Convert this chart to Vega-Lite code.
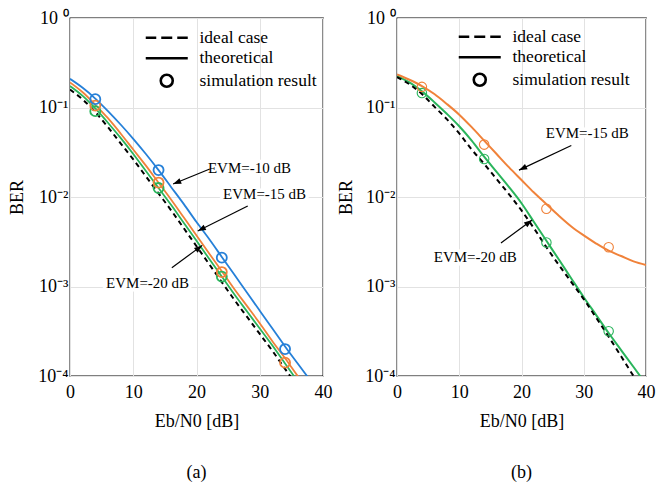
{
  "$schema": "https://vega.github.io/schema/vega-lite/v6.json",
  "background": "white",
  "padding": {"left": 8, "top": 8, "right": 2, "bottom": 2},
  "spacing": 4,
  "config": {
    "font": "Liberation Serif",
    "view": {"stroke": "black", "strokeWidth": 1.3},
    "axis": {
      "labelFont": "Liberation Serif", "titleFont": "Liberation Serif",
      "labelColor": "black", "titleColor": "black",
      "labelFontSize": 18, "titleFontSize": 18, "titleFontWeight": "normal",
      "gridColor": "#e2e2e2", "gridWidth": 1, "domain": false, "ticks": false,
      "labelFlush": false, "labelOverlap": false
    },
    "title": {"font": "Liberation Serif", "fontSize": 18, "fontWeight": "normal", "color": "black"}
  },
  "datasets": {
    "curves": [
      {"panel": "a", "series": "ideal", "x": 0, "y": 0.1585}, {"panel": "a", "series": "ideal", "x": 2, "y": 0.123}, {"panel": "a", "series": "ideal", "x": 4, "y": 0.0891}, {"panel": "a", "series": "ideal", "x": 6, "y": 0.0603}, {"panel": "a", "series": "ideal", "x": 8, "y": 0.0398}, {"panel": "a", "series": "ideal", "x": 10, "y": 0.0263}, {"panel": "a", "series": "ideal", "x": 12, "y": 0.017}, {"panel": "a", "series": "ideal", "x": 14, "y": 0.01096}, {"panel": "a", "series": "ideal", "x": 16, "y": 0.00708}, {"panel": "a", "series": "ideal", "x": 18, "y": 0.00447}, {"panel": "a", "series": "ideal", "x": 20, "y": 0.00282}, {"panel": "a", "series": "ideal", "x": 22, "y": 0.00178}, {"panel": "a", "series": "ideal", "x": 24, "y": 0.00112}, {"panel": "a", "series": "ideal", "x": 26, "y": 0.000708}, {"panel": "a", "series": "ideal", "x": 28, "y": 0.000457}, {"panel": "a", "series": "ideal", "x": 30, "y": 0.000295}, {"panel": "a", "series": "ideal", "x": 32, "y": 0.000191}, {"panel": "a", "series": "ideal", "x": 34, "y": 0.00012}, {"panel": "a", "series": "ideal", "x": 36, "y": 0.0000759},
      {"panel": "a", "series": "-20 dB", "x": 0, "y": 0.1738}, {"panel": "a", "series": "-20 dB", "x": 2, "y": 0.1349}, {"panel": "a", "series": "-20 dB", "x": 4, "y": 0.0977}, {"panel": "a", "series": "-20 dB", "x": 6, "y": 0.0676}, {"panel": "a", "series": "-20 dB", "x": 8, "y": 0.0457}, {"panel": "a", "series": "-20 dB", "x": 10, "y": 0.0302}, {"panel": "a", "series": "-20 dB", "x": 12, "y": 0.0195}, {"panel": "a", "series": "-20 dB", "x": 14, "y": 0.01259}, {"panel": "a", "series": "-20 dB", "x": 16, "y": 0.00813}, {"panel": "a", "series": "-20 dB", "x": 18, "y": 0.00513}, {"panel": "a", "series": "-20 dB", "x": 20, "y": 0.00324}, {"panel": "a", "series": "-20 dB", "x": 22, "y": 0.00204}, {"panel": "a", "series": "-20 dB", "x": 24, "y": 0.00129}, {"panel": "a", "series": "-20 dB", "x": 26, "y": 0.000813}, {"panel": "a", "series": "-20 dB", "x": 28, "y": 0.000525}, {"panel": "a", "series": "-20 dB", "x": 30, "y": 0.000339}, {"panel": "a", "series": "-20 dB", "x": 32, "y": 0.000219}, {"panel": "a", "series": "-20 dB", "x": 34, "y": 0.000138}, {"panel": "a", "series": "-20 dB", "x": 36, "y": 0.0000871},
      {"panel": "a", "series": "-15 dB", "x": 0, "y": 0.1905}, {"panel": "a", "series": "-15 dB", "x": 2, "y": 0.1479}, {"panel": "a", "series": "-15 dB", "x": 4, "y": 0.1072}, {"panel": "a", "series": "-15 dB", "x": 6, "y": 0.0759}, {"panel": "a", "series": "-15 dB", "x": 8, "y": 0.0513}, {"panel": "a", "series": "-15 dB", "x": 10, "y": 0.0339}, {"panel": "a", "series": "-15 dB", "x": 12, "y": 0.0224}, {"panel": "a", "series": "-15 dB", "x": 14, "y": 0.01445}, {"panel": "a", "series": "-15 dB", "x": 16, "y": 0.00933}, {"panel": "a", "series": "-15 dB", "x": 18, "y": 0.00589}, {"panel": "a", "series": "-15 dB", "x": 20, "y": 0.00372}, {"panel": "a", "series": "-15 dB", "x": 22, "y": 0.00234}, {"panel": "a", "series": "-15 dB", "x": 24, "y": 0.00148}, {"panel": "a", "series": "-15 dB", "x": 26, "y": 0.000933}, {"panel": "a", "series": "-15 dB", "x": 28, "y": 0.000603}, {"panel": "a", "series": "-15 dB", "x": 30, "y": 0.000389}, {"panel": "a", "series": "-15 dB", "x": 32, "y": 0.000245}, {"panel": "a", "series": "-15 dB", "x": 34, "y": 0.000158}, {"panel": "a", "series": "-15 dB", "x": 36, "y": 0.0001}, {"panel": "a", "series": "-15 dB", "x": 38, "y": 0.0000646},
      {"panel": "a", "series": "-10 dB", "x": 0, "y": 0.2089}, {"panel": "a", "series": "-10 dB", "x": 2, "y": 0.166}, {"panel": "a", "series": "-10 dB", "x": 4, "y": 0.1259}, {"panel": "a", "series": "-10 dB", "x": 6, "y": 0.0912}, {"panel": "a", "series": "-10 dB", "x": 8, "y": 0.0646}, {"panel": "a", "series": "-10 dB", "x": 10, "y": 0.0447}, {"panel": "a", "series": "-10 dB", "x": 12, "y": 0.0302}, {"panel": "a", "series": "-10 dB", "x": 14, "y": 0.01995}, {"panel": "a", "series": "-10 dB", "x": 16, "y": 0.01288}, {"panel": "a", "series": "-10 dB", "x": 18, "y": 0.00832}, {"panel": "a", "series": "-10 dB", "x": 20, "y": 0.00525}, {"panel": "a", "series": "-10 dB", "x": 22, "y": 0.00339}, {"panel": "a", "series": "-10 dB", "x": 24, "y": 0.00214}, {"panel": "a", "series": "-10 dB", "x": 26, "y": 0.00135}, {"panel": "a", "series": "-10 dB", "x": 28, "y": 0.000851}, {"panel": "a", "series": "-10 dB", "x": 30, "y": 0.000537}, {"panel": "a", "series": "-10 dB", "x": 32, "y": 0.000339}, {"panel": "a", "series": "-10 dB", "x": 34, "y": 0.000214}, {"panel": "a", "series": "-10 dB", "x": 36, "y": 0.000138}, {"panel": "a", "series": "-10 dB", "x": 38, "y": 0.0000891},
      {"panel": "b", "series": "ideal", "x": 0, "y": 0.2188}, {"panel": "b", "series": "ideal", "x": 2, "y": 0.182}, {"panel": "b", "series": "ideal", "x": 4, "y": 0.1413}, {"panel": "b", "series": "ideal", "x": 6, "y": 0.1023}, {"panel": "b", "series": "ideal", "x": 8, "y": 0.0741}, {"panel": "b", "series": "ideal", "x": 10, "y": 0.0513}, {"panel": "b", "series": "ideal", "x": 12, "y": 0.0339}, {"panel": "b", "series": "ideal", "x": 14, "y": 0.02344}, {"panel": "b", "series": "ideal", "x": 16, "y": 0.01585}, {"panel": "b", "series": "ideal", "x": 18, "y": 0.01072}, {"panel": "b", "series": "ideal", "x": 20, "y": 0.00708}, {"panel": "b", "series": "ideal", "x": 22, "y": 0.00447}, {"panel": "b", "series": "ideal", "x": 24, "y": 0.00275}, {"panel": "b", "series": "ideal", "x": 26, "y": 0.00174}, {"panel": "b", "series": "ideal", "x": 28, "y": 0.00112}, {"panel": "b", "series": "ideal", "x": 30, "y": 0.000724}, {"panel": "b", "series": "ideal", "x": 32, "y": 0.000447}, {"panel": "b", "series": "ideal", "x": 34, "y": 0.000275}, {"panel": "b", "series": "ideal", "x": 36, "y": 0.000166}, {"panel": "b", "series": "ideal", "x": 38, "y": 0.0001}, {"panel": "b", "series": "ideal", "x": 40, "y": 0.0000631},
      {"panel": "b", "series": "-20 dB", "x": 0, "y": 0.2239}, {"panel": "b", "series": "-20 dB", "x": 2, "y": 0.1905}, {"panel": "b", "series": "-20 dB", "x": 4, "y": 0.1514}, {"panel": "b", "series": "-20 dB", "x": 6, "y": 0.1148}, {"panel": "b", "series": "-20 dB", "x": 8, "y": 0.0851}, {"panel": "b", "series": "-20 dB", "x": 10, "y": 0.0617}, {"panel": "b", "series": "-20 dB", "x": 12, "y": 0.0427}, {"panel": "b", "series": "-20 dB", "x": 14, "y": 0.0282}, {"panel": "b", "series": "-20 dB", "x": 16, "y": 0.01905}, {"panel": "b", "series": "-20 dB", "x": 18, "y": 0.01288}, {"panel": "b", "series": "-20 dB", "x": 20, "y": 0.00851}, {"panel": "b", "series": "-20 dB", "x": 22, "y": 0.00525}, {"panel": "b", "series": "-20 dB", "x": 24, "y": 0.00324}, {"panel": "b", "series": "-20 dB", "x": 26, "y": 0.002}, {"panel": "b", "series": "-20 dB", "x": 28, "y": 0.00123}, {"panel": "b", "series": "-20 dB", "x": 30, "y": 0.000759}, {"panel": "b", "series": "-20 dB", "x": 32, "y": 0.000479}, {"panel": "b", "series": "-20 dB", "x": 34, "y": 0.000302}, {"panel": "b", "series": "-20 dB", "x": 36, "y": 0.000195}, {"panel": "b", "series": "-20 dB", "x": 38, "y": 0.000126}, {"panel": "b", "series": "-20 dB", "x": 40, "y": 0.0000813},
      {"panel": "b", "series": "-15 dB", "x": 0, "y": 0.2344}, {"panel": "b", "series": "-15 dB", "x": 2, "y": 0.2042}, {"panel": "b", "series": "-15 dB", "x": 4, "y": 0.1738}, {"panel": "b", "series": "-15 dB", "x": 6, "y": 0.1413}, {"panel": "b", "series": "-15 dB", "x": 8, "y": 0.1096}, {"panel": "b", "series": "-15 dB", "x": 10, "y": 0.0832}, {"panel": "b", "series": "-15 dB", "x": 12, "y": 0.0603}, {"panel": "b", "series": "-15 dB", "x": 14, "y": 0.0427}, {"panel": "b", "series": "-15 dB", "x": 16, "y": 0.0302}, {"panel": "b", "series": "-15 dB", "x": 18, "y": 0.0214}, {"panel": "b", "series": "-15 dB", "x": 20, "y": 0.01549}, {"panel": "b", "series": "-15 dB", "x": 22, "y": 0.01122}, {"panel": "b", "series": "-15 dB", "x": 24, "y": 0.00832}, {"panel": "b", "series": "-15 dB", "x": 26, "y": 0.00617}, {"panel": "b", "series": "-15 dB", "x": 28, "y": 0.00468}, {"panel": "b", "series": "-15 dB", "x": 30, "y": 0.00372}, {"panel": "b", "series": "-15 dB", "x": 32, "y": 0.00302}, {"panel": "b", "series": "-15 dB", "x": 34, "y": 0.00251}, {"panel": "b", "series": "-15 dB", "x": 36, "y": 0.00219}, {"panel": "b", "series": "-15 dB", "x": 38, "y": 0.00191}, {"panel": "b", "series": "-15 dB", "x": 40, "y": 0.00174}
    ],
    "sim": [
      {"panel": "a", "series": "-20 dB", "kind": "simulation result", "x": 4, "y": 0.091}, {"panel": "a", "series": "-20 dB", "kind": "simulation result", "x": 14, "y": 0.0126}, {"panel": "a", "series": "-20 dB", "kind": "simulation result", "x": 24, "y": 0.00129},
      {"panel": "a", "series": "-15 dB", "kind": "simulation result", "x": 4, "y": 0.105}, {"panel": "a", "series": "-15 dB", "kind": "simulation result", "x": 14, "y": 0.0145}, {"panel": "a", "series": "-15 dB", "kind": "simulation result", "x": 24, "y": 0.00145}, {"panel": "a", "series": "-15 dB", "kind": "simulation result", "x": 34, "y": 0.000141},
      {"panel": "a", "series": "-10 dB", "kind": "simulation result", "x": 4, "y": 0.124}, {"panel": "a", "series": "-10 dB", "kind": "simulation result", "x": 14, "y": 0.02}, {"panel": "a", "series": "-10 dB", "kind": "simulation result", "x": 24, "y": 0.0021}, {"panel": "a", "series": "-10 dB", "kind": "simulation result", "x": 34, "y": 0.0002},
      {"panel": "b", "series": "-20 dB", "kind": "simulation result", "x": 4, "y": 0.145}, {"panel": "b", "series": "-20 dB", "kind": "simulation result", "x": 14, "y": 0.0266}, {"panel": "b", "series": "-20 dB", "kind": "simulation result", "x": 24, "y": 0.0031}, {"panel": "b", "series": "-20 dB", "kind": "simulation result", "x": 34, "y": 0.000316},
      {"panel": "b", "series": "-15 dB", "kind": "simulation result", "x": 4, "y": 0.17}, {"panel": "b", "series": "-15 dB", "kind": "simulation result", "x": 14, "y": 0.0385}, {"panel": "b", "series": "-15 dB", "kind": "simulation result", "x": 24, "y": 0.0074}, {"panel": "b", "series": "-15 dB", "kind": "simulation result", "x": 34, "y": 0.00275}
    ],
    "notes": [
      {"panel": "a", "label": "EVM=-10 dB", "x": 21.8, "y": 0.0211},
      {"panel": "a", "label": "EVM=-15 dB", "x": 24.2, "y": 0.01072},
      {"panel": "a", "label": "EVM=-20 dB", "x": 5.7, "y": 0.001096},
      {"panel": "b", "label": "EVM=-15 dB", "x": 23.9, "y": 0.0519},
      {"panel": "b", "label": "EVM=-20 dB", "x": 5.9, "y": 0.00214}
    ],
    "arrows": [
      {"panel": "a", "id": "a10", "x": 22.1, "y": 0.02056, "x2": 16.3, "y2": 0.01396},
      {"panel": "a", "id": "a15", "x": 28.1, "y": 0.00794, "x2": 20.2, "y2": 0.00417},
      {"panel": "a", "id": "a20", "x": 16.1, "y": 0.00162, "x2": 20.9, "y2": 0.00288},
      {"panel": "b", "id": "b15", "x": 28.0, "y": 0.0376, "x2": 19.6, "y2": 0.01995},
      {"panel": "b", "id": "b20", "x": 16.7, "y": 0.00306, "x2": 21.7, "y2": 0.00553}
    ]
  },
  "resolve": {"scale": {"x": "independent", "y": "independent", "color": "independent", "shape": "independent"}, "legend": {"shape": "independent"}},
  "hconcat": [
    {
      "width": 253, "height": 358,
      "title": {"text": "(a)", "orient": "bottom", "offset": 34, "anchor": "middle"},
      "encoding": {
        "x": {"field": "x", "type": "quantitative", "title": "Eb/N0 [dB]", "scale": {"domain": [0, 40], "nice": false, "zero": false}, "axis": {"values": [0, 10, 20, 30, 40], "labelPadding": 7, "titlePadding": 11}},
        "y": {"field": "y", "type": "quantitative", "title": "BER", "scale": {"type": "log", "domain": [0.0001, 1]}, "axis": {"values": [0.0001, 0.001, 0.01, 0.1, 1], "labelPadding": 2, "titlePadding": 11, "labelExpr": "'10' + (datum.value > 0.5 ? ' ⁰' : datum.value > 0.05 ? '⁻¹' : datum.value > 0.005 ? '⁻²' : datum.value > 0.0005 ? '⁻³' : '⁻⁴')"}}
      },
      "layer": [
        {"data": {"name": "curves"}, "transform": [{"filter": "datum.panel === 'a' && datum.series !== 'ideal'"}], "mark": {"type": "line", "strokeWidth": 1.8, "clip": true, "interpolate": "monotone"}, "encoding": {"color": {"field": "series", "type": "nominal", "scale": {"domain": ["-10 dB", "-15 dB", "-20 dB"], "range": ["#2680d8", "#f0823a", "#2ab55c"]}, "legend": null}}},
        {"data": {"name": "curves"}, "transform": [{"filter": "datum.panel === 'a' && datum.series === 'ideal'"}], "mark": {"type": "line", "strokeWidth": 2, "color": "black", "strokeDash": [5, 4], "clip": true, "interpolate": "monotone"}, "encoding": {}},
        {"data": {"name": "sim"}, "transform": [{"filter": "datum.panel === 'a'"}], "mark": {"type": "point", "filled": false, "size": 70, "strokeWidth": 1.8, "opacity": 1, "clip": true},
          "encoding": {
            "color": {"field": "series", "type": "nominal", "scale": {"domain": ["-10 dB", "-15 dB", "-20 dB"], "range": ["#2680d8", "#f0823a", "#2ab55c"]}, "legend": null},
            "shape": {"field": "kind", "type": "nominal", "scale": {"domain": ["ideal case", "theoretical", "simulation result"], "range": ["M-4.2,0H-2.1M-1.1,0H1.1M2.1,0H4.2", "M-4.2,0H4.2", "M1.2,0A1.2,1.2,0,1,1,-1.2,0A1.2,1.2,0,1,1,1.2,0Z"]},
              "legend": {"orient": "none", "legendX": 88, "legendY": 11, "title": null, "labelFont": "Liberation Serif", "labelFontSize": 17.5, "labelColor": "black", "symbolSize": 100, "labelOffset": 24, "rowPadding": 1.5, "padding": 0, "symbolStrokeWidth": 2.6, "symbolStrokeColor": "black", "symbolFillColor": "transparent",
                "encode": {"symbols": {"update": {"stroke": {"value": "black"}, "fill": {"value": "transparent"}, "opacity": {"value": 1}, "strokeWidth": [{"test": "datum.value === 'simulation result'", "value": 1.5}, {"value": 2.6}]}}}}}
          }},
        {"data": {"name": "notes"}, "transform": [{"filter": "datum.panel === 'a'"}], "mark": {"type": "text", "align": "left", "baseline": "middle", "font": "Liberation Serif", "fontSize": 15, "fill": "white", "stroke": "white", "strokeWidth": 7, "strokeJoin": "round"}, "encoding": {"text": {"field": "label"}}},
        {"data": {"name": "arrows"}, "transform": [{"filter": "datum.panel === 'a'"}], "mark": {"type": "rule", "color": "black", "strokeWidth": 1.2}, "encoding": {"x2": {"field": "x2"}, "y2": {"field": "y2"}}},
        {"data": {"name": "arrows"}, "transform": [{"filter": "datum.id === 'a10'"}], "mark": {"type": "point", "shape": "M0,0L-1,2.7L1,2.7Z", "angle": 248, "size": 36, "filled": true, "color": "black", "opacity": 1, "strokeWidth": 0},
          "encoding": {"x": {"field": "x2", "type": "quantitative", "title": "Eb/N0 [dB]", "scale": {"domain": [0, 40], "nice": false, "zero": false}}, "y": {"field": "y2", "type": "quantitative", "title": "BER", "scale": {"type": "log", "domain": [0.0001, 1]}}}},
        {"data": {"name": "arrows"}, "transform": [{"filter": "datum.id === 'a15'"}], "mark": {"type": "point", "shape": "M0,0L-1,2.7L1,2.7Z", "angle": 243, "size": 36, "filled": true, "color": "black", "opacity": 1, "strokeWidth": 0},
          "encoding": {"x": {"field": "x2", "type": "quantitative", "title": "Eb/N0 [dB]", "scale": {"domain": [0, 40], "nice": false, "zero": false}}, "y": {"field": "y2", "type": "quantitative", "title": "BER", "scale": {"type": "log", "domain": [0.0001, 1]}}}},
        {"data": {"name": "arrows"}, "transform": [{"filter": "datum.id === 'a20'"}], "mark": {"type": "point", "shape": "M0,0L-1,2.7L1,2.7Z", "angle": 52, "size": 36, "filled": true, "color": "black", "opacity": 1, "strokeWidth": 0},
          "encoding": {"x": {"field": "x2", "type": "quantitative", "title": "Eb/N0 [dB]", "scale": {"domain": [0, 40], "nice": false, "zero": false}}, "y": {"field": "y2", "type": "quantitative", "title": "BER", "scale": {"type": "log", "domain": [0.0001, 1]}}}},
        {"data": {"name": "notes"}, "transform": [{"filter": "datum.panel === 'a'"}], "mark": {"type": "text", "align": "left", "baseline": "middle", "font": "Liberation Serif", "fontSize": 15, "fill": "black"}, "encoding": {"text": {"field": "label"}}}
      ]
    },
    {
      "width": 249, "height": 358,
      "title": {"text": "(b)", "orient": "bottom", "offset": 34, "anchor": "middle"},
      "encoding": {
        "x": {"field": "x", "type": "quantitative", "title": "Eb/N0 [dB]", "scale": {"domain": [0, 40], "nice": false, "zero": false}, "axis": {"values": [0, 10, 20, 30, 40], "labelPadding": 7, "titlePadding": 11}},
        "y": {"field": "y", "type": "quantitative", "title": "BER", "scale": {"type": "log", "domain": [0.0001, 1]}, "axis": {"values": [0.0001, 0.001, 0.01, 0.1, 1], "labelPadding": 2, "titlePadding": 9, "labelExpr": "'10' + (datum.value > 0.5 ? ' ⁰' : datum.value > 0.05 ? '⁻¹' : datum.value > 0.005 ? '⁻²' : datum.value > 0.0005 ? '⁻³' : '⁻⁴')"}}
      },
      "layer": [
        {"data": {"name": "curves"}, "transform": [{"filter": "datum.panel === 'b' && datum.series !== 'ideal'"}], "mark": {"type": "line", "strokeWidth": 2, "clip": true, "interpolate": "monotone"}, "encoding": {"color": {"field": "series", "type": "nominal", "scale": {"domain": ["-15 dB", "-20 dB"], "range": ["#f0823a", "#2ab55c"]}, "legend": null}}},
        {"data": {"name": "curves"}, "transform": [{"filter": "datum.panel === 'b' && datum.series === 'ideal'"}], "mark": {"type": "line", "strokeWidth": 2, "color": "black", "strokeDash": [5, 4], "clip": true, "interpolate": "monotone"}, "encoding": {}},
        {"data": {"name": "sim"}, "transform": [{"filter": "datum.panel === 'b'"}], "mark": {"type": "point", "filled": false, "size": 62, "strokeWidth": 1.1, "opacity": 1, "clip": true},
          "encoding": {
            "color": {"field": "series", "type": "nominal", "scale": {"domain": ["-15 dB", "-20 dB"], "range": ["#f0823a", "#2ab55c"]}, "legend": null},
            "shape": {"field": "kind", "type": "nominal", "scale": {"domain": ["ideal case", "theoretical", "simulation result"], "range": ["M-4.2,0H-2.1M-1.1,0H1.1M2.1,0H4.2", "M-4.2,0H4.2", "M1.2,0A1.2,1.2,0,1,1,-1.2,0A1.2,1.2,0,1,1,1.2,0Z"]},
              "legend": {"orient": "none", "legendX": 74, "legendY": 10, "title": null, "labelFont": "Liberation Serif", "labelFontSize": 17.5, "labelColor": "black", "symbolSize": 100, "labelOffset": 24, "rowPadding": 1.5, "padding": 0, "symbolStrokeWidth": 2.6, "symbolStrokeColor": "black", "symbolFillColor": "transparent",
                "encode": {"symbols": {"update": {"stroke": {"value": "black"}, "fill": {"value": "transparent"}, "opacity": {"value": 1}, "strokeWidth": [{"test": "datum.value === 'simulation result'", "value": 1.5}, {"value": 2.6}]}}}}}
          }},
        {"data": {"name": "notes"}, "transform": [{"filter": "datum.panel === 'b'"}], "mark": {"type": "text", "align": "left", "baseline": "middle", "font": "Liberation Serif", "fontSize": 15, "fill": "white", "stroke": "white", "strokeWidth": 7, "strokeJoin": "round"}, "encoding": {"text": {"field": "label"}}},
        {"data": {"name": "arrows"}, "transform": [{"filter": "datum.panel === 'b'"}], "mark": {"type": "rule", "color": "black", "strokeWidth": 1.2}, "encoding": {"x2": {"field": "x2"}, "y2": {"field": "y2"}}},
        {"data": {"name": "arrows"}, "transform": [{"filter": "datum.id === 'b15'"}], "mark": {"type": "point", "shape": "M0,0L-1,2.7L1,2.7Z", "angle": 244, "size": 36, "filled": true, "color": "black", "opacity": 1, "strokeWidth": 0},
          "encoding": {"x": {"field": "x2", "type": "quantitative", "title": "Eb/N0 [dB]", "scale": {"domain": [0, 40], "nice": false, "zero": false}}, "y": {"field": "y2", "type": "quantitative", "title": "BER", "scale": {"type": "log", "domain": [0.0001, 1]}}}},
        {"data": {"name": "arrows"}, "transform": [{"filter": "datum.id === 'b20'"}], "mark": {"type": "point", "shape": "M0,0L-1,2.7L1,2.7Z", "angle": 53, "size": 36, "filled": true, "color": "black", "opacity": 1, "strokeWidth": 0},
          "encoding": {"x": {"field": "x2", "type": "quantitative", "title": "Eb/N0 [dB]", "scale": {"domain": [0, 40], "nice": false, "zero": false}}, "y": {"field": "y2", "type": "quantitative", "title": "BER", "scale": {"type": "log", "domain": [0.0001, 1]}}}},
        {"data": {"name": "notes"}, "transform": [{"filter": "datum.panel === 'b'"}], "mark": {"type": "text", "align": "left", "baseline": "middle", "font": "Liberation Serif", "fontSize": 15, "fill": "black"}, "encoding": {"text": {"field": "label"}}}
      ]
    }
  ]
}
